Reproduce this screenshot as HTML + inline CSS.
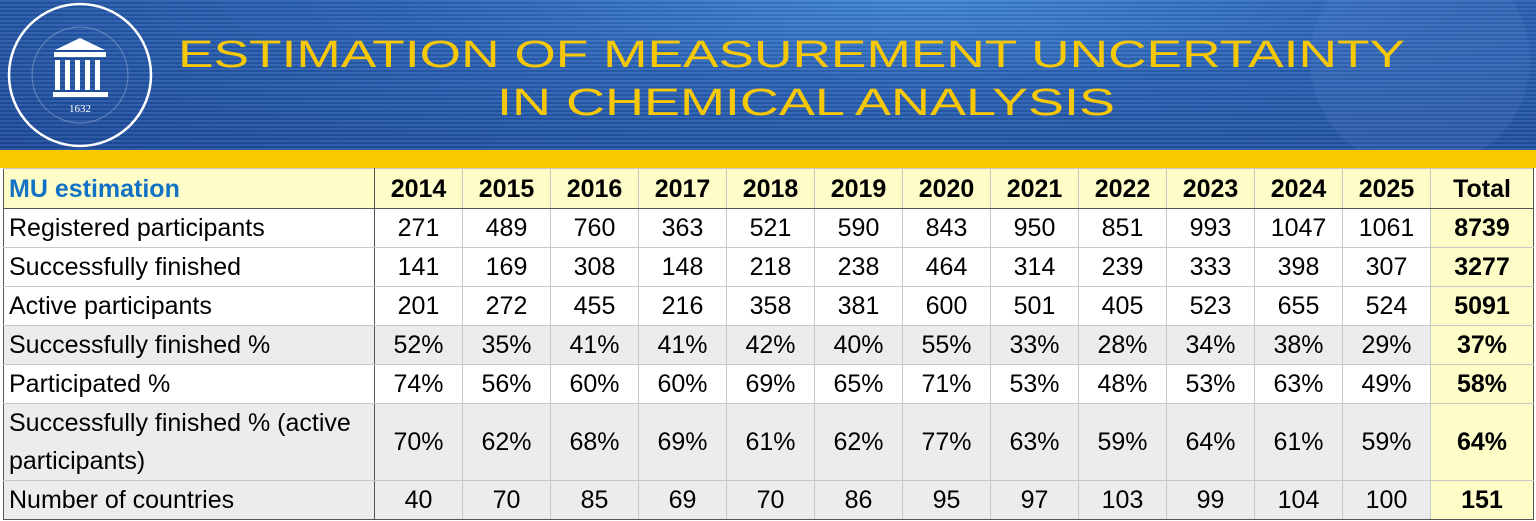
<!DOCTYPE html>
<html><head><meta charset="utf-8"><style>
html,body{margin:0;padding:0;width:1536px;height:521px;overflow:hidden;background:#fff;font-family:"Liberation Sans",sans-serif}
#banner{position:absolute;left:0;top:0;width:1536px;height:150px;
background:repeating-linear-gradient(180deg,rgba(255,255,255,0.07) 0 2px,rgba(0,0,0,0.08) 2px 4px),radial-gradient(ellipse at 60% 0%,#3f84d4 0%,#2a62b5 40%,#1d4a9a 100%)}
#strip{position:absolute;left:0;top:150px;width:1536px;height:18px;background:#f9c800}
table{position:absolute;left:3px;top:168px;border-collapse:collapse;table-layout:fixed;font-size:25px;color:#000}
td{border:1px solid #c8c8c8;padding:0;text-align:center;height:38px;line-height:38px;white-space:nowrap;overflow:hidden}
td:first-child{text-align:left;padding-left:5px;border-right:1.5px solid #555;border-left:1.5px solid #555}
tr.h td{background:#fefdc8;font-weight:bold;height:39px;border-bottom:1.5px solid #555}
tr.h td:first-child{color:#1372c4}
td.t{background:#fefdc8;font-weight:bold;border-right:1.5px solid #555}
tr.g td{background:#ececec}
tr.g td.t{background:#fefdc8}
tr.two td{height:76px;line-height:38px}
tr.two td:first-child{white-space:normal}
tr:last-child td{border-bottom:1.5px solid #555}
</style></head><body>
<div id="banner">
<svg width="1536" height="150" style="position:absolute;left:0;top:0">
<circle cx="1420" cy="60" r="110" fill="rgba(120,160,230,0.12)"/>
<circle cx="80" cy="75" r="71" fill="none" stroke="#fff" stroke-width="2.5"/>
<circle cx="80" cy="75" r="48" fill="none" stroke="rgba(255,255,255,0.3)" stroke-width="1"/>
<polygon points="55,50 80,38 105,50" fill="#fff"/>
<rect x="54" y="52" width="52" height="5" fill="#fff"/>
<rect x="55" y="60" width="5" height="30" fill="#fff"/><rect x="65" y="60" width="5" height="30" fill="#fff"/><rect x="75" y="60" width="5" height="30" fill="#fff"/><rect x="85" y="60" width="5" height="30" fill="#fff"/><rect x="95" y="60" width="5" height="30" fill="#fff"/>
<rect x="53" y="92" width="55" height="5" fill="#fff"/>
<text x="80" y="112" fill="#fff" font-size="11" text-anchor="middle" font-family="Liberation Serif">1632</text>
<text x="178" y="67" fill="#f7c808" font-size="38" textLength="1227" lengthAdjust="spacingAndGlyphs" font-family="Liberation Sans">ESTIMATION OF MEASUREMENT UNCERTAINTY</text>
<text x="497" y="115" fill="#f7c808" font-size="38" textLength="618" lengthAdjust="spacingAndGlyphs" font-family="Liberation Sans">IN CHEMICAL ANALYSIS</text>
</svg>
</div>
<div id="strip"></div>
<table>
<colgroup><col style="width:371px"><col span="12" style="width:88px"><col style="width:103px"></colgroup>
<tr class="h"><td>MU estimation</td><td>2014</td><td>2015</td><td>2016</td><td>2017</td><td>2018</td><td>2019</td><td>2020</td><td>2021</td><td>2022</td><td>2023</td><td>2024</td><td>2025</td><td class="t">Total</td></tr>
<tr><td>Registered participants</td><td>271</td><td>489</td><td>760</td><td>363</td><td>521</td><td>590</td><td>843</td><td>950</td><td>851</td><td>993</td><td>1047</td><td>1061</td><td class="t">8739</td></tr>
<tr><td>Successfully finished</td><td>141</td><td>169</td><td>308</td><td>148</td><td>218</td><td>238</td><td>464</td><td>314</td><td>239</td><td>333</td><td>398</td><td>307</td><td class="t">3277</td></tr>
<tr><td>Active participants</td><td>201</td><td>272</td><td>455</td><td>216</td><td>358</td><td>381</td><td>600</td><td>501</td><td>405</td><td>523</td><td>655</td><td>524</td><td class="t">5091</td></tr>
<tr class="g"><td>Successfully finished %</td><td>52%</td><td>35%</td><td>41%</td><td>41%</td><td>42%</td><td>40%</td><td>55%</td><td>33%</td><td>28%</td><td>34%</td><td>38%</td><td>29%</td><td class="t">37%</td></tr>
<tr><td>Participated %</td><td>74%</td><td>56%</td><td>60%</td><td>60%</td><td>69%</td><td>65%</td><td>71%</td><td>53%</td><td>48%</td><td>53%</td><td>63%</td><td>49%</td><td class="t">58%</td></tr>
<tr class="g two"><td>Successfully finished % (active participants)</td><td>70%</td><td>62%</td><td>68%</td><td>69%</td><td>61%</td><td>62%</td><td>77%</td><td>63%</td><td>59%</td><td>64%</td><td>61%</td><td>59%</td><td class="t">64%</td></tr>
<tr class="g"><td>Number of countries</td><td>40</td><td>70</td><td>85</td><td>69</td><td>70</td><td>86</td><td>95</td><td>97</td><td>103</td><td>99</td><td>104</td><td>100</td><td class="t">151</td></tr>
</table>
</body></html>
